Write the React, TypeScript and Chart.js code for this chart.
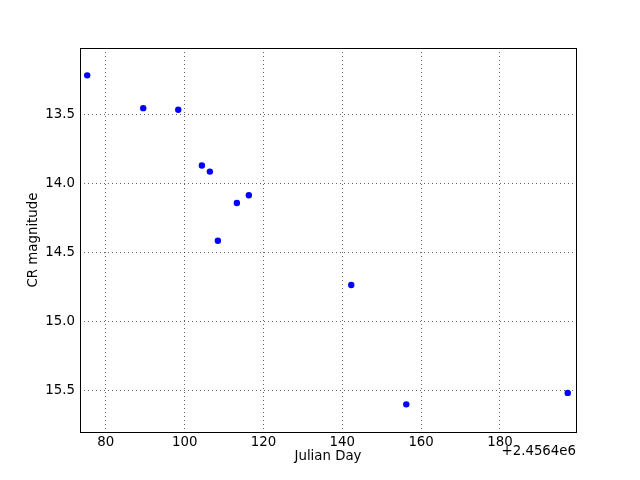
import React, { useEffect, useRef } from "react";
import { Chart, registerables } from "chart.js";

Chart.register(...registerables);

const julianDay = [75.28, 89.49, 98.38, 104.37, 106.4, 108.43, 113.25, 116.29, 142.28, 156.24, 197.2];
const crMagnitude = [13.22, 13.457, 13.469, 13.872, 13.916, 14.416, 14.143, 14.087, 14.737, 15.6, 15.517];
const xTicks = [80, 100, 120, 140, 160, 180];
const yTicks = [13.5, 14.0, 14.5, 15.0, 15.5];
const xRange = [73.45, 199.3];
const yRange = [13.022, 15.8];
const xOffsetText = "+2.4564e6";
const xTitle = "Julian Day";
const yTitle = "CR magnitude";

const FONT = "'DejaVu Sans', sans-serif";
const FSIZE = 13.33;

const framePlugin = {
  id: "frame",
  afterDraw(chart: any) {
    const { ctx, chartArea } = chart;
    ctx.save();
    ctx.strokeStyle = "#000";
    ctx.lineWidth = 1;
    ctx.strokeRect(
      Math.round(chartArea.left) + 0.5,
      Math.round(chartArea.top) + 0.5,
      Math.round(chartArea.right - chartArea.left),
      Math.round(chartArea.bottom - chartArea.top)
    );
    ctx.fillStyle = "#000";
    ctx.font = FSIZE + "px " + FONT;
    ctx.textAlign = "right";
    ctx.textBaseline = "middle";
    ctx.fillText(xOffsetText, chartArea.right, chartArea.bottom + 20);
    ctx.textAlign = "center";
    ctx.fillText(xTitle, (chartArea.left + chartArea.right) / 2, chartArea.bottom + 25);
    ctx.translate(34, (chartArea.top + chartArea.bottom) / 2);
    ctx.rotate(-Math.PI / 2);
    ctx.fillText(yTitle, 0, 0);
    ctx.restore();
  },
};

export default function App() {
  const ref = useRef<HTMLCanvasElement | null>(null);

  useEffect(() => {
    const canvas = ref.current;
    if (!canvas) return;
    const chart = new Chart(canvas, {
      type: "scatter",
      data: {
        datasets: [
          {
            data: julianDay.map((x, i) => ({ x, y: crMagnitude[i] })),
            backgroundColor: "#0000ff",
            borderColor: "#0000ff",
            pointRadius: 3.2,
            pointBorderWidth: 0,
          },
        ],
      },
      options: {
        animation: false,
        responsive: false,
        maintainAspectRatio: false,
        layout: { padding: { left: 0, right: 64, top: 48, bottom: 0 } },
        plugins: { legend: { display: false }, tooltip: { enabled: false } },
        scales: {
          x: {
            type: "linear",
            min: xRange[0],
            max: xRange[1],
            afterBuildTicks: (scale: any) => {
              scale.ticks = xTicks.map((v) => ({ value: v }));
            },
            afterFit: (scale: any) => {
              scale.height = 48;
            },
            grid: {
              color: "rgba(0,0,0,0.6)",
              lineWidth: 1,
              drawTicks: false,
            },
            border: { display: false, dash: [1, 3] },
            ticks: {
              color: "#000",
              padding: 3,
              font: { family: FONT, size: FSIZE },
              callback: (v: any) => String(v),
              maxRotation: 0,
            },
          },
          y: {
            type: "linear",
            reverse: true,
            min: yRange[0],
            max: yRange[1],
            afterBuildTicks: (scale: any) => {
              scale.ticks = yTicks.map((v) => ({ value: v }));
            },
            afterFit: (scale: any) => {
              scale.width = 80;
            },
            grid: {
              color: "rgba(0,0,0,0.6)",
              lineWidth: 1,
              drawTicks: false,
            },
            border: { display: false, dash: [1, 3] },
            ticks: {
              color: "#000",
              padding: 5,
              font: { family: FONT, size: FSIZE },
              callback: (v: any) => Number(v).toFixed(1),
            },
          },
        },
      },
      plugins: [framePlugin],
    } as any);
    return () => chart.destroy();
  }, []);

  return (
    <div style={{ position: "fixed", left: 0, top: 0, width: 640, height: 480, background: "#fff" }}>
      <canvas ref={ref} width={640} height={480} style={{ width: 640, height: 480 }} />
    </div>
  );
}
